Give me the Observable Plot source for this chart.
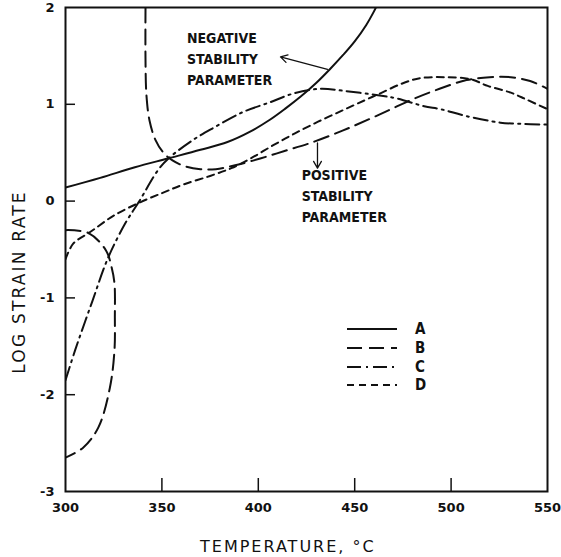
<!DOCTYPE html>
<html><head><meta charset="utf-8">
<script src="https://cdn.jsdelivr.net/npm/d3@7"></script>
<script src="https://cdn.jsdelivr.net/npm/@observablehq/plot@0.6"></script>
<style>
body{margin:0;background:#fff;}
#wrap{position:relative;width:561px;height:557px;background:#fff;overflow:hidden;}
#wrap svg{position:absolute;left:0;top:0;}
.ytitle{position:absolute;left:19px;top:282px;transform:translate(-50%,-50%) rotate(-90deg);white-space:nowrap;font:17px "DejaVu Sans",sans-serif;line-height:17px;letter-spacing:2.2px;color:#111;}
.xtitle{position:absolute;left:200px;top:539px;white-space:nowrap;font:16px "DejaVu Sans",sans-serif;line-height:16px;letter-spacing:2px;color:#111;}
.legend{position:absolute;left:347px;top:320px;font:bold 15px "DejaVu Sans Condensed","DejaVu Sans",sans-serif;color:#111;}
.legend .row{display:flex;align-items:center;height:18.7px;}
.legend .row span{margin-left:18px;}
</style></head><body><div id="wrap"></div>
<script>
// axis ticks
const xTicks = [300, 350, 400, 450, 500, 550];
const yTicks = [-3, -2, -1, 0, 1, 2];
const seriesNames = ["A", "B", "C", "D"];

// curve A (solid)  [temperature, log strain rate]
const curveA = [[300,0.14],[318,0.24],[336,0.35],[353,0.44],[370,0.53],[384,0.61],[396,0.72],[406,0.84],[414,0.955],[422,1.08],[430,1.22],[437,1.36],[444,1.51],[450,1.65],[456,1.82],[460,1.96],[461.5,2.02]];
// curve B (long dash) — low temperature loop and upper branch
const curveB1 = [[300,-0.30],[312,-0.33],[321,-0.51],[324,-0.69],[325.4,-0.85],[325.6,-1.2],[325.4,-1.54],[323,-1.93],[317,-2.34],[309,-2.55],[300,-2.65]];
const curveB2 = [[341.5,2.0],[341.5,1.45],[342,1.09],[343.6,0.83],[346.7,0.63],[350.8,0.50],[355.5,0.42],[362,0.36],[370,0.33],[378,0.33],[388,0.37],[401,0.44],[414,0.52],[427,0.60],[444,0.73],[459,0.86],[470,0.96],[481,1.06],[494,1.16],[508,1.25],[520,1.28],[531,1.28],[541,1.24],[550,1.16]];
// curve C (dash-dot)
const curveC = [[300,-1.85],[305,-1.54],[314,-1.03],[322,-0.59],[331,-0.23],[338,-0.01],[348,0.32],[353.4,0.44],[366,0.63],[377,0.76],[392,0.92],[406,1.02],[418,1.11],[432,1.16],[444,1.14],[463,1.09],[472,1.06],[486,0.98],[494.5,0.95],[507.5,0.88],[525.6,0.81],[534,0.80],[550,0.79]];
// curve D (short dash)
const curveD = [[300,-0.60],[304,-0.44],[312,-0.33],[315.6,-0.28],[325,-0.15],[339,-0.01],[351,0.09],[361,0.17],[375,0.26],[386,0.34],[396,0.44],[408,0.58],[419,0.70],[431,0.82],[444,0.94],[455,1.04],[463,1.11],[474,1.21],[484,1.27],[497,1.28],[510,1.26],[519,1.19],[531,1.12],[539,1.05],[550,0.95]];

// annotations
const notes = [
  {x: 363, y: 1.786, text: "NEGATIVE\nSTABILITY\nPARAMETER"},
  {x: 422.5, y: 0.371, text: "POSITIVE\nSTABILITY\nPARAMETER"}
];
const pointers = [
  {x1: 435.9, y1: 1.36, x2: 411.5, y2: 1.49},
  {x1: 430.7, y1: 0.60, x2: 430.7, y2: 0.34}
];

const dashes = {A: null, B: "15 7", C: "14 5 2 5", D: "7 5"};
const ink = "#111";
const lineOpts = (dash) => ({x: d => d[0], y: d => d[1], curve: "catmull-rom", stroke: ink, strokeWidth: 2, strokeDasharray: dash, clip: true});

const chart = Plot.plot({
  width: 561, height: 557,
  marginLeft: 65, marginRight: 14, marginTop: 7, marginBottom: 66,
  x: {domain: [300, 550]},
  y: {domain: [-3, 2]},
  style: {background: "transparent", color: ink, fontFamily: "'DejaVu Sans', sans-serif", fontSize: "13px"},
  marks: [
    Plot.axisX(xTicks, {tickSize: 0, tickPadding: 11, label: null, fontWeight: "bold", fontSize: 13}),
    Plot.axisY(yTicks, {tickSize: 0, tickPadding: 11, label: null, fontWeight: "bold", fontSize: 13, tickFormat: d => String(d)}),
    Plot.tickX(xTicks.slice(1, -1), {x: d => d, insetTop: 471, stroke: ink, strokeWidth: 1.5}),
    Plot.tickY(yTicks.slice(1, -1), {y: d => d, insetRight: 472, stroke: ink, strokeWidth: 1.5}),
    Plot.frame({stroke: ink, strokeWidth: 2}),
    Plot.line(curveA, lineOpts(dashes.A)),
    Plot.line(curveB1, lineOpts(dashes.B)),
    Plot.line(curveB2, lineOpts(dashes.B)),
    Plot.line(curveC, lineOpts(dashes.C)),
    Plot.line(curveD, lineOpts(dashes.D)),
    Plot.arrow(pointers, {x1: "x1", y1: "y1", x2: "x2", y2: "y2", stroke: ink, strokeWidth: 1.3, headLength: 9}),
    Plot.text(notes, {x: "x", y: "y", text: "text", textAnchor: "start", lineAnchor: "top", lineHeight: 1.5, fontSize: 14, fontWeight: "bold", fontFamily: "'DejaVu Sans Condensed', 'DejaVu Sans', sans-serif", fill: ink})
  ]
});

const wrap = document.getElementById("wrap");
wrap.appendChild(chart);

const yt = document.createElement("div");
yt.className = "ytitle"; yt.textContent = "LOG STRAIN RATE";
wrap.appendChild(yt);
const xt = document.createElement("div");
xt.className = "xtitle"; xt.textContent = "TEMPERATURE, °C";
wrap.appendChild(xt);

const legend = document.createElement("div");
legend.className = "legend";
seriesNames.forEach(k => {
  const row = document.createElement("div");
  row.className = "row";
  const dash = dashes[k] ? ` stroke-dasharray="${dashes[k]}"` : "";
  row.innerHTML = `<svg width="50" height="6" style="position:static"><line x1="0" y1="3" x2="50" y2="3" stroke="${ink}" stroke-width="2"${dash}/></svg><span>${k}</span>`;
  legend.appendChild(row);
});
wrap.appendChild(legend);
</script>
</body></html>
